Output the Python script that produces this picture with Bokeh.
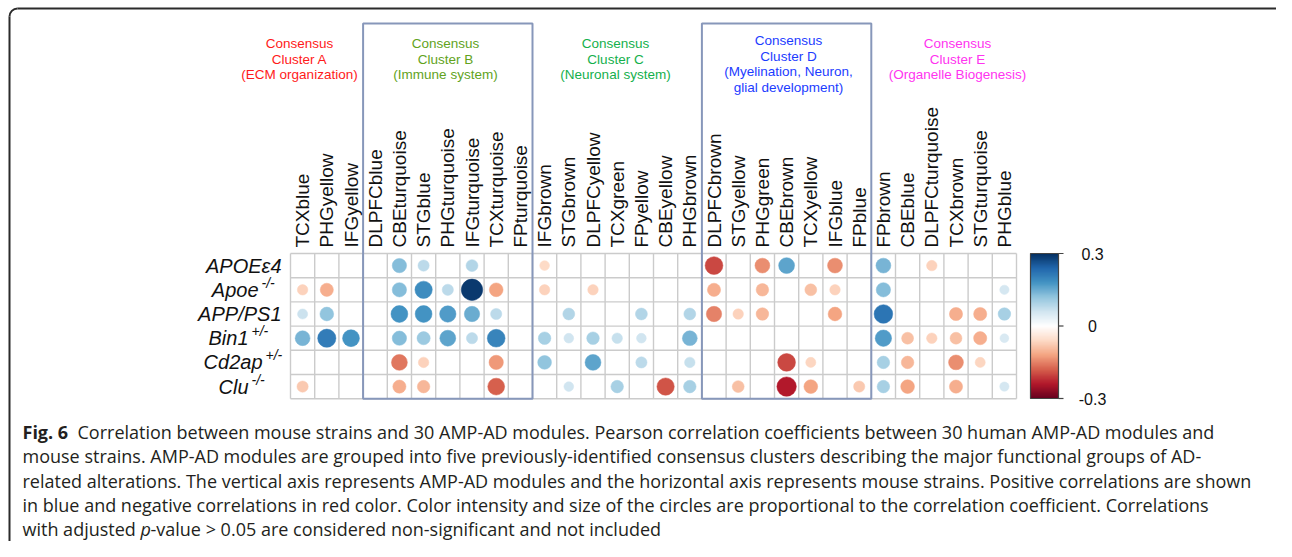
import math
import numpy as np
from bokeh.plotting import figure
from bokeh.models import Range1d, LinearColorMapper
from bokeh.core.properties import value
from bokeh.embed import file_html
from bokeh.resources import INLINE

# ---------------- data ----------------
modules = ["TCXblue", "PHGyellow", "IFGyellow",
           "DLPFCblue", "CBEturquoise", "STGblue", "PHGturquoise", "IFGturquoise", "TCXturquoise", "FPturquoise",
           "IFGbrown", "STGbrown", "DLPFCyellow", "TCXgreen", "FPyellow", "CBEyellow", "PHGbrown",
           "DLPFCbrown", "STGyellow", "PHGgreen", "CBEbrown", "TCXyellow", "IFGblue", "FPblue",
           "FPbrown", "CBEblue", "DLPFCturquoise", "TCXbrown", "STGturquoise", "PHGblue"]

strains = ["APOEε4", "Apoe", "APP/PS1", "Bin1", "Cd2ap", "Clu"]
strain_sup = ["", "-/-", "", "+/-", "+/-", "-/-"]

# correlation per strain, one value per module (0 = not significant, not shown)
r_APOE4 = [0, 0, 0, 0, 0.13, 0.08, 0, 0.09, 0, 0,
           -0.06, 0, 0, 0, 0, 0, 0,
           -0.20, 0, -0.14, 0.16, 0, -0.14, 0,
           0.14, 0, -0.07, 0, 0, 0]
r_Apoe = [-0.07, -0.11, 0, 0, 0.13, 0.19, 0.08, 0.29, -0.12, 0,
          -0.07, 0, -0.07, 0, 0, 0, 0,
          -0.11, 0, -0.10, 0, -0.09, -0.07, 0,
          0.13, 0, 0, 0, 0, 0.055]
r_APPPS1 = [0.065, 0.12, 0, 0, 0.18, 0.18, 0.17, 0.15, 0.08, 0,
            0, 0.09, 0, 0, 0.09, 0, 0.09,
            -0.15, -0.07, -0.10, 0, 0, -0.12, 0,
            0.22, 0, 0, -0.11, -0.11, 0.10]
r_Bin1 = [0.14, 0.21, 0.18, 0, 0.13, 0.11, 0.16, 0.08, 0.20, 0,
          0.10, 0.06, 0.10, 0.07, 0.06, 0, 0.14,
          0, 0, 0, 0, 0, 0, 0,
          0.17, -0.09, -0.07, -0.09, -0.11, 0.05]
r_Cd2ap = [0, 0, 0, 0, -0.16, -0.07, 0, 0, -0.13, 0,
           0.12, 0, 0.16, 0, 0.08, 0, 0.07,
           0, 0, 0, -0.20, -0.065, 0, 0,
           0.10, -0.10, 0, -0.14, -0.065, 0]
r_Clu = [-0.08, 0, 0, 0, -0.11, -0.10, 0, 0, -0.18, 0,
         0, 0.06, 0, 0.10, 0, -0.19, 0.10,
         0, -0.09, 0, -0.24, -0.12, 0, -0.08,
         0.10, -0.12, 0, -0.11, 0, 0.055]
rows = [r_APOE4, r_Apoe, r_APPPS1, r_Bin1, r_Cd2ap, r_Clu]

cluster_lines = [["Consensus", "Cluster A", "(ECM organization)"],
                 ["Consensus", "Cluster B", "(Immune system)"],
                 ["Consensus", "Cluster C", "(Neuronal system)"],
                 ["Consensus", "Cluster D", "(Myelination, Neuron,", "glial development)"],
                 ["Consensus", "Cluster E", "(Organelle Biogenesis)"]]
cluster_colors = ["#ff1a1a", "#62a31c", "#14b04c", "#1c3cff", "#ff33f0"]
boxed_clusters = [(3, 10), (17, 24)]  # column spans of framed clusters B and D

cbar_ticks = [0.3, 0.0, -0.3]
cbar_labels = ["0.3", "0", "-0.3"]
rlim = 0.3

caption_bold = "Fig. 6"
caption = [
    "Correlation between mouse strains and 30 AMP-AD modules. Pearson correlation coefficients between 30 human AMP-AD modules and",
    "mouse strains. AMP-AD modules are grouped into five previously-identified consensus clusters describing the major functional groups of AD-",
    "related alterations. The vertical axis represents AMP-AD modules and the horizontal axis represents mouse strains. Positive correlations are shown",
    "in blue and negative correlations in red color. Color intensity and size of the circles are proportional to the correlation coefficient. Correlations",
    "with adjusted",
]
caption_italic = "p"
caption_tail = "-value > 0.05 are considered non-significant and not included"

# ---------------- colours ----------------
stops = ["#67001F", "#B2182B", "#D6604D", "#F4A582", "#FDDBC7", "#FFFFFF",
         "#D1E5F0", "#92C5DE", "#4393C3", "#2166AC", "#053061"]


def hex2rgb(h):
    h = h.lstrip("#")
    return [int(h[i:i + 2], 16) for i in (0, 2, 4)]


stop_rgb = np.array([hex2rgb(s) for s in stops], dtype=float)


def col_for(v):
    t = (v + rlim) / (2 * rlim) * (len(stops) - 1)
    t = min(max(t, 0), len(stops) - 1)
    i = min(int(math.floor(t)), len(stops) - 2)
    f = t - i
    c = stop_rgb[i] * (1 - f) + stop_rgb[i + 1] * f
    return "#%02x%02x%02x" % tuple(int(round(x)) for x in c)


palette = [col_for(v) for v in np.linspace(-rlim, rlim, 256)]

# ---------------- geometry ----------------
W, H = 1276, 541
cell = 24.2
gx0 = 290  # grid left (px)
gy0 = 253  # grid top (px)
nrow = len(strains)
ncol = len(modules)


def PX(px):  # pixel x -> data x
    return (px - gx0) / cell


def PY(py):  # pixel y -> data y
    return nrow - (py - gy0) / cell


p = figure(width=W, height=H, output_backend="svg", toolbar_location=None,
           x_range=Range1d(PX(0), PX(W)), y_range=Range1d(PY(H), PY(0)),
           min_border=0, background_fill_color="white", border_fill_color="white")
p.axis.visible = False
p.grid.visible = False
p.outline_line_color = None

FONT = value("Liberation Sans")

# frame around figure panel
p.line(x=[PX(17), PX(W + 2)], y=[PY(8), PY(8)], line_color="#2b2b2b", line_width=2)
p.line(x=[PX(9), PX(9)], y=[PY(16), PY(H + 2)], line_color="#2b2b2b", line_width=2)
p.arc(x=[PX(17)], y=[PY(16)], radius=8 / cell, start_angle=math.pi / 2, end_angle=math.pi,
      line_color="#2b2b2b", line_width=2)

# grid
xs = [[i, i] for i in range(ncol + 1)] + [[0, ncol] for j in range(nrow + 1)]
ys = [[0, nrow] for i in range(ncol + 1)] + [[j, j] for j in range(nrow + 1)]
p.multi_line(xs=xs, ys=ys, line_color="#cbcbcb", line_width=1.4)

# circles
cx, cy, cs, cc = [], [], [], []
for ri, row in enumerate(rows):
    for ci, v in enumerate(row):
        if v == 0:
            continue
        cx.append(ci + 0.5)
        cy.append(nrow - ri - 0.5)
        cs.append(0.9 * cell * math.sqrt(abs(v) / rlim))
        cc.append(col_for(v))
p.scatter(x=cx, y=cy, size=cs, marker="circle", fill_color=cc, line_color=cc, line_width=0.5)

# cluster boxes
for (a, b) in boxed_clusters:
    p.quad(left=[a], right=[b], bottom=[0], top=[PY(23)], fill_color=None,
           line_color="#8797ba", line_width=2)

# column labels
p.text(x=[i + 0.5 for i in range(ncol)], y=[PY(247)] * ncol, text=modules, angle=math.pi / 2,
       text_font=FONT, text_font_size="19px", text_align="left", text_baseline="middle",
       text_color="#111111")

# row labels
main_right = [281, 258, 281, 248, 262, 248]
p.text(x=[PX(v) for v in main_right], y=[nrow - i - 0.5 for i in range(nrow)], text=strains,
       text_font=FONT, text_font_size="20px", text_font_style="italic", text_align="right",
       text_baseline="middle", text_color="#111111")
sx, sy, st = [], [], []
for i, s in enumerate(strain_sup):
    if s:
        sx.append(PX(main_right[i] + 3))
        sy.append(nrow - i - 0.5 + 7 / cell)
        st.append(s)
p.text(x=sx, y=sy, text=st, text_font=FONT, text_font_size="14px", text_font_style="italic",
       text_align="left", text_baseline="middle", text_color="#111111")

# cluster headers
cl_x = [299, 445, 615, 788, 957]
for k, lines in enumerate(cluster_lines):
    y0 = 40 if len(lines) == 4 else 43
    p.text(x=[PX(cl_x[k])] * len(lines), y=[PY(y0 + 15.5 * j) for j in range(len(lines))],
           text=lines, text_font=FONT, text_font_size="13.5px", text_align="center",
           text_baseline="middle", text_color=cluster_colors[k])

# colour bar
mapper = LinearColorMapper(palette=palette, low=-rlim, high=rlim)
arr = np.linspace(-rlim, rlim, 256).reshape(256, 1)
cb_l, cb_r, cb_t, cb_b = 1030, 1058, 253, 398
p.image(image=[arr], x=PX(cb_l), y=PY(cb_b), dw=(cb_r - cb_l) / cell, dh=(cb_b - cb_t) / cell,
        color_mapper=mapper)
p.quad(left=[PX(cb_l)], right=[PX(cb_r)], bottom=[PY(cb_b)], top=[PY(cb_t)], fill_color=None,
       line_color="#444444", line_width=1.2)
tick_y = [PY(cb_b) + (t + rlim) / (2 * rlim) * (cb_b - cb_t) / cell for t in cbar_ticks]
p.segment(x0=[PX(cb_r)] * 3, x1=[PX(cb_r + 5)] * 3, y0=tick_y, y1=tick_y, line_color="#444444",
          line_width=1.2)
p.text(x=[PX(1092)] * 3, y=tick_y, text=cbar_labels, text_font=FONT, text_font_size="16px",
       text_align="center", text_baseline="middle", text_color="#111111")

# caption
CF = value("Open Sans")
CS = "18px"
cap_y = [431, 455.5, 480, 504, 528]
p.text(x=[PX(22)], y=[PY(cap_y[0])], text=[caption_bold], text_font=CF, text_font_size=CS,
       text_font_style="bold", text_align="left", text_baseline="middle", text_color="#231f20")
p.text(x=[PX(77), PX(22), PX(22), PX(22), PX(22)], y=[PY(v) for v in cap_y], text=caption,
       text_font=CF, text_font_size=CS, text_align="left", text_baseline="middle",
       text_color="#231f20")
p.text(x=[PX(140)], y=[PY(cap_y[4])], text=[caption_italic], text_font=CF, text_font_size=CS,
       text_font_style="italic", text_align="left", text_baseline="middle", text_color="#231f20")
p.text(x=[PX(150)], y=[PY(cap_y[4])], text=[caption_tail], text_font=CF, text_font_size=CS,
       text_align="left", text_baseline="middle", text_color="#231f20")

open("out.html", "w").write(file_html(p, INLINE))
